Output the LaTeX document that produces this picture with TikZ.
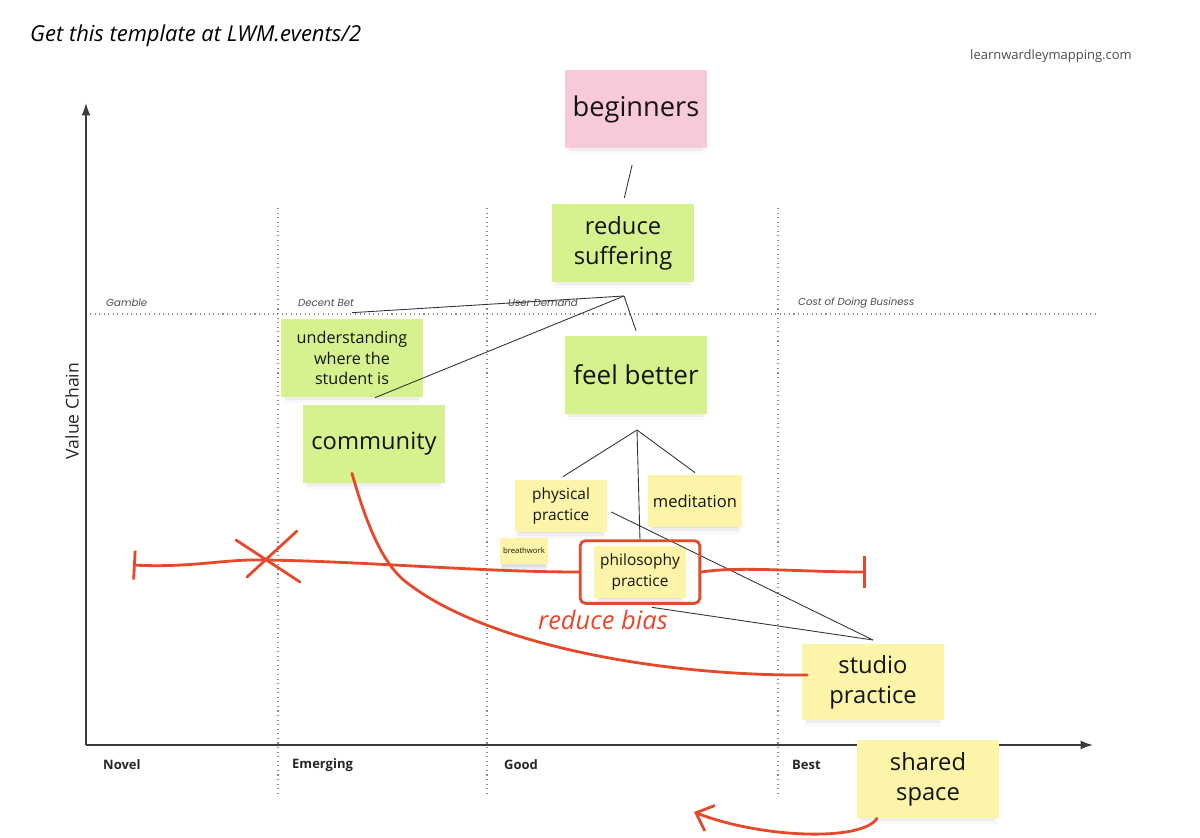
\documentclass[tikz,border=0pt]{standalone}
\usepackage{fontspec}
\setmainfont{Open Sans}
\newfontfamily\poppins{Poppins}
\usetikzlibrary{arrows.meta,positioning,fit,shadows,calc}

\definecolor{stickygreen}{HTML}{D6F28E}
\definecolor{stickyyellow}{HTML}{FCF4A8}
\definecolor{stickypink}{HTML}{F8C9D7}
\definecolor{markerred}{HTML}{E5492B}
\definecolor{inkgray}{HTML}{3A3A3A}

\begin{document}
\begin{tikzpicture}[
  x=0.02cm, y=-0.02cm,
  >=Stealth,
  sticky/.style={rectangle, inner sep=2pt, align=center, text=black!92,
                 drop shadow={shadow xshift=0pt, shadow yshift=-4.5pt, shadow scale=0.97, opacity=0.05},
                 drop shadow={shadow xshift=0pt, shadow yshift=-3.5pt, shadow scale=0.94, opacity=0.09},
                 drop shadow={shadow xshift=0pt, shadow yshift=-2.5pt, shadow scale=0.9, opacity=0.13}},
  bignote/.style={sticky, minimum width=2.86cm, minimum height=1.56cm,
                  font=\fontsize{13.5}{17}\selectfont},
  midnote/.style={sticky, minimum width=1.84cm, minimum height=1.04cm,
                  font=\fontsize{8.8}{11.5}\selectfont},
  link/.style={draw=black!80, line width=0.5pt},
  marker/.style={draw=markerred, line width=1.6pt, line cap=round, line join=round},
  evoline/.style={draw=black!45, dotted, line width=0.6pt},
  axisline/.style={draw=inkgray, line width=0.9pt, -{Latex[length=7pt,width=5pt]}},
  stage/.style={anchor=west, text=black!70, font=\poppins\itshape\fontsize{5.8}{7}\selectfont},
  phase/.style={anchor=west, text=black!85, font=\bfseries\fontsize{7.4}{9}\selectfont},
]
\useasboundingbox (0,0) rectangle (1200,838);

% Header
\node[anchor=west, font=\itshape\fontsize{12.5}{15}\selectfont] (title) at (24,36)
  {Get this template at LWM.events/2};
\node[anchor=east, text=black!70, font=\fontsize{7.4}{9}\selectfont] (site) at (1138,56)
  {learnwardleymapping.com};

% Axes and evolution grid
\coordinate (origin) at (86,745);
\coordinate (yTop) at (86,103);
\coordinate (xEnd) at (1093,745);
\draw[axisline] (origin) -- (yTop);
\draw[axisline] (origin) -- (xEnd);
\foreach \x in {278,487,778} {\draw[evoline] (\x,208) -- (\x,795);}
\draw[evoline] (90,314) -- (1095,314);

\node[rotate=90, font=\fontsize{10}{12}\selectfont, text=black!85] (vchain) at (72,411) {Value Chain};

\node[stage] (gamble) at (100,303) {Gamble};
\node[stage] (decent) at (292,303) {Decent Bet};
\node[stage] (demand) at (502,303) {User Demand};
\node[stage] (cost)   at (792,303) {Cost of Doing Business};

\node[phase] (novel)    at (97,765)  {Novel};
\node[phase] (emerging) at (286,765) {Emerging};
\node[phase] (good)     at (498,765) {Good};
\node[phase] (best)     at (786,765) {Best};

% Sticky notes
\node[bignote, fill=stickypink, font=\fontsize{15.5}{18}\selectfont] (beginners) at (636,109) {beginners};
\node[bignote, fill=stickygreen] (suffering) at (623,243) {reduce\\suffering};
\node[bignote, fill=stickygreen, font=\fontsize{9.2}{11.5}\selectfont]
  (understanding) at (352,358) {understanding\\where the\\student is};
\node[bignote, fill=stickygreen] (community) at (374,444) {community};
\node[bignote, fill=stickygreen, font=\fontsize{14.8}{17}\selectfont] (feelbetter) at (636,375) {feel better};
\node[midnote, fill=stickyyellow] (physical) at (561,506) {physical\\practice};
\node[midnote, fill=stickyyellow, minimum width=1.88cm, font=\fontsize{9.4}{11.5}\selectfont]
  (meditation) at (695,501) {meditation};
\node[sticky, fill=stickyyellow, minimum width=0.96cm, minimum height=0.52cm, inner sep=1pt,
  font=\fontsize{4.4}{5}\selectfont] (breathwork) at (524,551) {breathwork};
\node[midnote, fill=stickyyellow] (philosophy) at (640,572) {philosophy\\practice};
\node[bignote, fill=stickyyellow, minimum height=1.52cm] (studio) at (873,682) {studio\\practice};
\node[bignote, fill=stickyyellow] (shared) at (928,779) {shared\\space};

% Value chain links
\coordinate (rsHub) at (624,296);
\coordinate (fbHub) at (637,430);
\coordinate (spHub) at (873,640);
\draw[link, shorten <=0.34cm, shorten >=0.12cm] (beginners.south) -- (suffering.north);
\draw[link] (rsHub) -- ([yshift=0.12cm]understanding.north);
\draw[link] (rsHub) -- ([yshift=0.14cm,xshift=0.02cm]community.north);
\draw[link] (rsHub) -- ([yshift=0.1cm]feelbetter.north);
\draw[link] (fbHub) -- ([yshift=0.06cm,xshift=0.04cm]physical.north);
\draw[link] (fbHub) -- ([yshift=0.04cm]meditation.north);
\draw[link] (fbHub) -- ([yshift=0.1cm]philosophy.north);
\draw[link] ([xshift=0.08cm,yshift=-0.12cm]physical.east) -- (spHub);
\draw[link] ([xshift=0.24cm,yshift=-0.18cm]philosophy.south) -- (spHub);

% Marker annotations
\node[marker, fit=(philosophy), inner xsep=0.27cm, inner ysep=0.1cm, rounded corners=3pt] (philoBox) {};
\coordinate (tlStart) at (133,565);
\coordinate (tlEnd) at (866,572);
\draw[marker, {Bar[width=0.58cm]}-] (tlStart) .. controls (190,568) and (225,559) .. (262,560)
  .. controls (360,561) and (480,572) .. (philoBox.west);
\draw[marker, -{Bar[width=0.64cm]}] (philoBox.east) .. controls (740,566) and (800,572) .. (tlEnd);
\draw[marker] (236,540) -- (300,582);
\draw[marker] (297,531) -- (247,577);
\draw[marker] ([xshift=-0.44cm,yshift=0.2cm]community.south) .. controls (368,530) and (385,568) .. (410,585)
  .. controls (490,645) and (660,676) .. ([xshift=0.12cm,yshift=0.14cm]studio.west);
\node[text=markerred, font=\itshape\fontsize{14.5}{17}\selectfont] (bias) at (603,620) {reduce bias};
\draw[marker, -{Straight Barb[length=0.3cm,width=0.55cm]}] ([xshift=-1.02cm]shared.south)
  .. controls (862,842) and (760,838) .. (694,812);

\end{tikzpicture}
\end{document}
